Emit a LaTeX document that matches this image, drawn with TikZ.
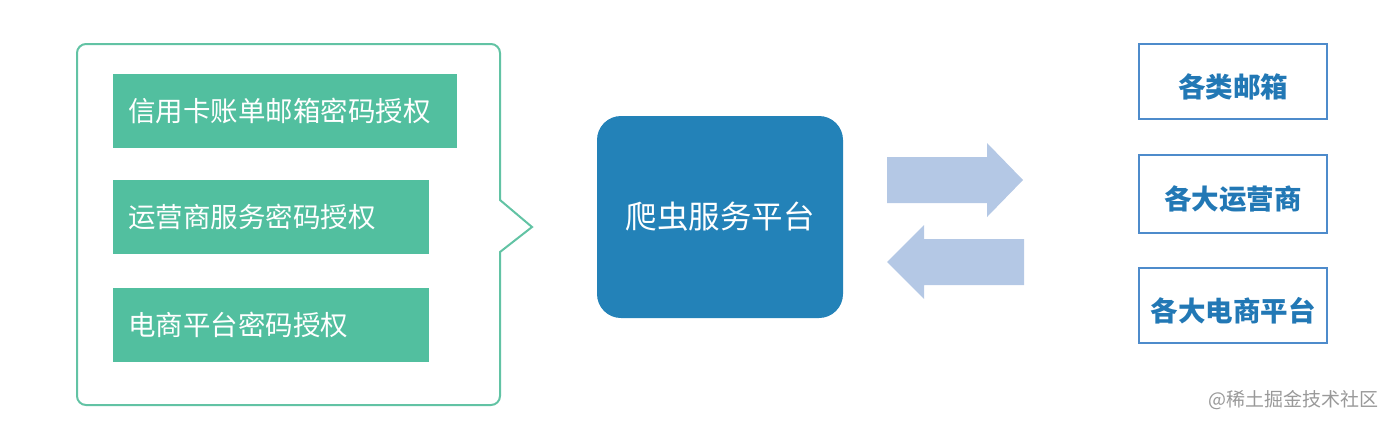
\documentclass[tikz,border=0pt]{standalone}
\usepackage{fontspec}
\setmainfont{Noto Sans CJK SC}
\usetikzlibrary{positioning}
\definecolor{authgreen}{HTML}{52BF9F}
\definecolor{calloutgreen}{HTML}{62C3A4}
\definecolor{platformblue}{HTML}{2382B8}
\definecolor{arrowblue}{HTML}{B4C8E5}
\definecolor{targetblue}{HTML}{4E8BCB}
\definecolor{targettext}{HTML}{2278B5}
\tikzstyle{authbox} = [fill=authgreen, text=white, anchor=west, minimum height=74pt, inner xsep=15pt, align=left, font=\fontsize{27.5}{31}\selectfont]
\tikzstyle{targetbox} = [draw=targetblue, line width=2pt, text=targettext, minimum width=188pt, text height=31pt, text depth=0pt, font=\fontsize{27.5}{31}\selectfont\bfseries]
\tikzset{callout/.style={draw=calloutgreen, line width=2pt}}

\begin{document}
\begin{tikzpicture}[x=1pt, y=-1pt]
  \useasboundingbox (0,0) rectangle (1388,426);
  % Callout frame
  \draw[callout] (500,200) [rounded corners=9pt] -- (500,44) -- (77,44) -- (77,405) -- (500,405) [sharp corners] -- (500,252) -- (532,227) -- cycle;
  % Authorisations
  \node[authbox, text width=314pt] (card) at (113,111) {信用卡账单邮箱密码授权};
  \node[authbox, text width=286pt] (carrier) at (113,216.5) {运营商服务密码授权};
  \node[authbox, text width=286pt] (shop) at (113,325) {电商平台密码授权};
  % Platform
  \node[fill=platformblue, rounded corners=24pt, minimum width=246pt, minimum height=202pt, text=white, font=\fontsize{31.5}{36}\selectfont] (platform) at (720,217) {爬虫服务平台};
  % Arrows
  \fill[arrowblue] (887,157) -- (987,157) -- (987,143) -- (1023,180) -- (987,217) -- (987,203) -- (887,203) -- cycle;
  \fill[arrowblue] (1024,239) -- (924,239) -- (924,225) -- (887,262) -- (924,299) -- (924,285) -- (1024,285) -- cycle;
  % Targets
  \node[targetbox, minimum height=75pt] (mail) at (1233,81.5) {各类邮箱};
  \node[targetbox, minimum height=78pt] (carriers) at (1233,194) {各大运营商};
  \node[targetbox, minimum height=75pt] (shops) at (1233,305.5) {各大电商平台};
  % Watermark
  \node[anchor=east, text=black!40, font=\fontsize{19}{22}\selectfont] (mark) at (1382,400) {@稀土掘金技术社区};
\end{tikzpicture}
\end{document}
